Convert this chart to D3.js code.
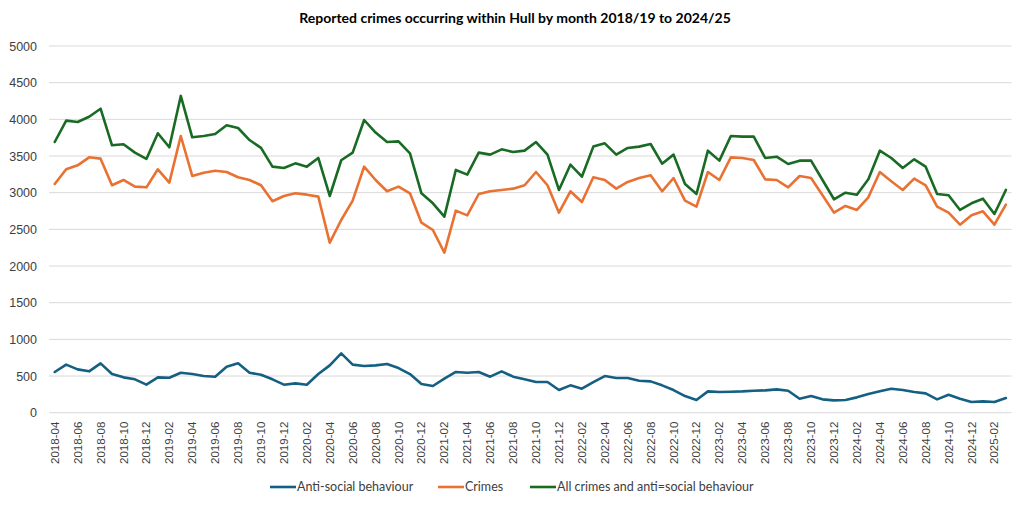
<!DOCTYPE html>
<html>
<head>
<meta charset="utf-8">
<script src="https://cdn.jsdelivr.net/npm/d3@7"></script>
<style>
  html, body { margin: 0; padding: 0; background: #fff; }
  svg { display: block; }
</style>
</head>
<body>
<svg id="chart" width="1024" height="508"></svg>
<script>
// ---- data ----
const months = [
  "2018-04","2018-05","2018-06","2018-07","2018-08","2018-09","2018-10","2018-11","2018-12","2019-01","2019-02","2019-03",
  "2019-04","2019-05","2019-06","2019-07","2019-08","2019-09","2019-10","2019-11","2019-12","2020-01","2020-02","2020-03",
  "2020-04","2020-05","2020-06","2020-07","2020-08","2020-09","2020-10","2020-11","2020-12","2021-01","2021-02","2021-03",
  "2021-04","2021-05","2021-06","2021-07","2021-08","2021-09","2021-10","2021-11","2021-12","2022-01","2022-02","2022-03",
  "2022-04","2022-05","2022-06","2022-07","2022-08","2022-09","2022-10","2022-11","2022-12","2023-01","2023-02","2023-03",
  "2023-04","2023-05","2023-06","2023-07","2023-08","2023-09","2023-10","2023-11","2023-12","2024-01","2024-02","2024-03",
  "2024-04","2024-05","2024-06","2024-07","2024-08","2024-09","2024-10","2024-11","2024-12","2025-01","2025-02","2025-03"
];

const antiSocial = [
  555,655,591,564,673,527,482,455,382,482,477,545,
  527,500,491,627,673,545,518,455,382,400,382,527,
  645,809,655,636,645,664,609,527,391,364,464,555,
  545,555,491,564,491,455,418,418,309,373,327,418,
  500,473,473,436,427,373,309,227,173,291,282,286,
  291,300,305,318,300,191,227,182,168,173,209,255,
  291,327,309,282,264,182,245,191,145,155,145,200
];

const crimes = [
  3119,3319,3373,3482,3464,3101,3173,3082,3073,3319,3137,3773,
  3228,3273,3300,3282,3210,3173,3101,2883,2955,2992,2973,2946,
  2318,2628,2891,3355,3173,3019,3082,2992,2591,2491,2182,2755,
  2691,2982,3019,3037,3055,3101,3282,3101,2728,3019,2873,3210,
  3173,3055,3146,3200,3237,3019,3200,2891,2809,3282,3173,3482,
  3473,3446,3182,3173,3073,3228,3200,2964,2728,2819,2764,2937,
  3282,3155,3037,3191,3101,2809,2728,2564,2691,2746,2564,2837
];

const allCrimesAsb = [
  3691,3982,3964,4036,4145,3646,3660,3546,3460,3810,3619,4319,
  3755,3773,3800,3919,3882,3718,3610,3355,3337,3400,3355,3473,
  2955,3442,3546,3991,3819,3691,3700,3537,2992,2855,2673,3310,
  3246,3546,3519,3591,3555,3573,3691,3519,3037,3382,3218,3628,
  3673,3519,3610,3628,3664,3395,3519,3119,2982,3573,3437,3773,
  3764,3764,3473,3491,3391,3437,3437,3173,2910,3000,2973,3182,
  3573,3473,3337,3455,3355,2982,2964,2764,2855,2918,2710,3037
];

const yTicks = [0,500,1000,1500,2000,2500,3000,3500,4000,4500,5000];

const seriesNames = ["Anti-social behaviour", "Crimes", "All crimes and anti=social behaviour"];
const seriesColors = ["#156082", "#E97132", "#196B24"];

const titleText = "Reported crimes occurring within Hull by month 2018/19 to 2024/25";

// ---- chart ----
const svg = d3.select("#chart");
const plot = { left: 49, right: 1011.6, top: 46, bottom: 412.7 };

const x = d3.scaleBand().domain(months).range([plot.left, plot.right]);
const xc = d => x(d) + x.bandwidth() / 2;
const y = d3.scaleLinear().domain([0, 5000]).range([plot.bottom, plot.top]);

// gridlines
svg.append("g")
  .selectAll("line")
  .data(yTicks)
  .join("line")
  .attr("x1", plot.left).attr("x2", plot.right)
  .attr("y1", d => y(d)).attr("y2", d => y(d))
  .attr("stroke", "#d9d9d9").attr("stroke-width", 1);

// y axis labels
const yAxis = d3.axisLeft(y).tickValues(yTicks).tickSize(0).tickPadding(0).tickFormat(d3.format("d"));
const gy = svg.append("g").attr("transform", `translate(37,0)`).call(yAxis);
gy.select(".domain").remove();
gy.selectAll("text")
  .attr("font-family", "Liberation Sans, Arial, sans-serif")
  .attr("font-size", "12.5px")
  .attr("fill", "#404040");

// x axis labels
const xAxis = d3.axisBottom(x)
  .tickValues(months.filter((m, i) => i % 2 === 0))
  .tickSize(0).tickPadding(0);
const gx = svg.append("g").attr("transform", `translate(0,${plot.bottom})`).call(xAxis);
gx.select(".domain").remove();
gx.selectAll("text")
  .attr("font-family", "Liberation Sans, Arial, sans-serif")
  .attr("font-size", "11.5px")
  .attr("fill", "#404040")
  .attr("transform", "rotate(-90)")
  .attr("text-anchor", "end")
  .attr("x", -9)
  .attr("y", 0)
  .attr("dy", "0.35em");

// lines
const allSeries = [antiSocial, crimes, allCrimesAsb];
const line = d3.line().x((d, i) => xc(months[i])).y(d => y(d));
svg.append("g")
  .selectAll("path")
  .data(allSeries)
  .join("path")
  .attr("d", d => line(d))
  .attr("fill", "none")
  .attr("stroke", (d, i) => seriesColors[i])
  .attr("stroke-width", 2.6)
  .attr("stroke-linejoin", "round")
  .attr("stroke-linecap", "round");

// title
svg.append("text")
  .attr("x", 515).attr("y", 23)
  .attr("text-anchor", "middle")
  .attr("font-family", "Lato, sans-serif")
  .attr("font-weight", "bold")
  .attr("font-size", "14px")
  .attr("fill", "#000")
  .text(titleText);

// legend
const legendX = [270, 438, 530];
const lg = svg.append("g").selectAll("g")
  .data(seriesNames)
  .join("g")
  .attr("transform", (d, i) => `translate(${legendX[i]},487)`);
lg.append("line")
  .attr("x1", 0).attr("x2", 26).attr("y1", 0).attr("y2", 0)
  .attr("stroke", (d, i) => seriesColors[i]).attr("stroke-width", 2.6);
lg.append("text")
  .attr("x", 27).attr("y", 0).attr("dy", "0.35em")
  .attr("font-family", "Lato, sans-serif")
  .attr("font-size", "12.5px")
  .attr("fill", "#404040")
  .text(d => d);
</script>
</body>
</html>
